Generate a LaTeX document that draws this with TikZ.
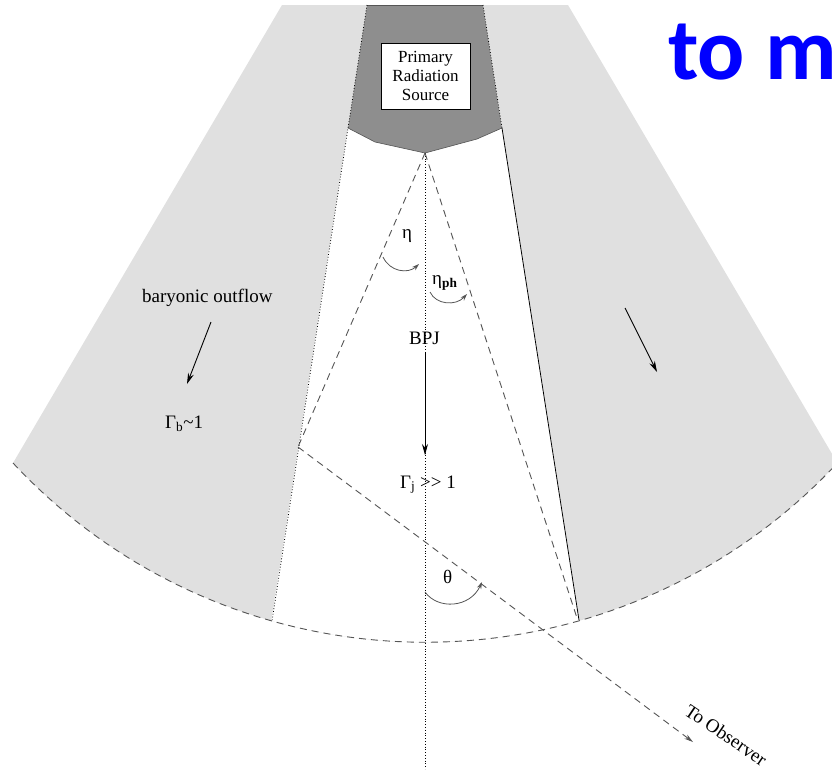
\documentclass[tikz,border=0pt]{standalone}
\usepackage{fontspec}
\setmainfont{Liberation Serif}
\newfontfamily\headfont{Carlito}
\usetikzlibrary{arrows.meta}
\definecolor{gray100}{HTML}{E0E0E0}
\definecolor{gray500}{HTML}{8E8E8E}
\definecolor{gray700}{HTML}{555555}
\definecolor{blue600}{HTML}{0000FF}

\begin{document}
\begin{tikzpicture}[x=1pt,y=-1pt]
  % Styles
  \tikzset{
    txt/.style={font=\fontsize{19}{22}\selectfont, inner sep=0pt, anchor=base west},
    srcbox/.style={draw, thin, fill=white, align=center, font=\fontsize{17}{19}\selectfont, minimum width=89pt, minimum height=66pt, inner sep=1pt},
    guide/.style={dash pattern=on 7pt off 5pt, gray700, line width=0.9pt},
    axis/.style={dotted, line width=0.8pt},
    flow/.style={-{Stealth[length=11pt,width=6pt]}, line width=0.9pt},
    turn/.style={-{Stealth[length=7pt,width=4.5pt]}, gray700, line width=0.8pt},
  }

  \useasboundingbox (0,0) rectangle (832,769);
  \clip (0,0) rectangle (832,769);

  % Points
  \coordinate (apex)  at (425,153);
  \coordinate (outTL) at (282,5);
  \coordinate (outTR) at (568,5);
  \coordinate (outBL) at (13,463);
  \coordinate (srcTL) at (367,5);
  \coordinate (srcTR) at (483,5);
  \coordinate (srcL)  at (348,128);
  \coordinate (srcR)  at (502,128);
  \coordinate (inBL)  at (272,621);
  \coordinate (inBR)  at (579,620);
  \coordinate (hit)   at (298,447);
  \coordinate (phEnd) at (577,618);
  \coordinate (obs)   at (693,742);

  % Outflow sector
  \fill[gray100] (outTL) -- (outBL) arc[start angle=137, end angle=43, radius=563.6] -- (outTR) -- cycle;
  \begin{scope}
    \clip (outTL) -- (outBL) arc[start angle=137, end angle=43, radius=563.6] -- (outTR) -- cycle;
    \fill[white] (srcTL) -- (srcTR) -- (592,700) -- (259,700) -- cycle;
  \end{scope}
  \draw[guide] (outBL) arc[start angle=137, end angle=43, radius=563.6];

  % Source region
  \fill[gray500] (srcTL) -- (srcTR) -- (srcR) -- (477,139) -- (apex) -- (375,142) -- (srcL) -- cycle;
  \draw[gray700, line width=1pt] (srcTL) -- (srcTR);
  \draw[gray700, line width=0.6pt] (srcR) -- (477,139) -- (apex) -- (375,142) -- (srcL);
  \node[srcbox] (source) at (425.5,76) {Primary\\Radiation\\Source};

  % Jet boundaries
  \draw[axis] (srcTL) -- (inBL);
  \draw[axis] (srcTR) -- (srcR);
  \draw[line width=0.8pt] (srcR) -- (inBR);
  \draw[axis] (apex) -- (425,769);
  \draw[guide] (apex) -- (hit);
  \draw[guide] (apex) -- (phEnd);
  \draw[guide, -{Stealth[length=9pt,width=5pt]}] (hit) -- (obs);

  % Angles
  \draw[turn] (383,257) .. controls (390,272) and (408,274) .. (419,264);
  \draw[turn] (430,292) .. controls (436,305) and (456,306) .. (467,294);
  \draw[turn] (425,592) .. controls (438,610) and (470,608) .. (482,582);

  % Flow arrows
  \draw[flow] (211,322) -- (187,384);
  \draw[flow] (425,352) -- (425,455);
  \draw[flow] (625,308) -- (657,372);

  % Labels
  \node[txt] (eta)   at (402,238) {η};
  \node[txt] (etaph) at (432,284) {η\textsubscript{\textbf{ph}}};
  \node[txt] (bpj)   at (409,344) {BPJ};
  \node[txt] (bary)  at (142,302) {baryonic outflow};
  \node[txt] (gamb)  at (165,428) {Γ\textsubscript{b}\textasciitilde1};
  \node[txt] (gamj)  at (400,488) {Γ\textsubscript{j} \mbox{>}\mbox{>} 1};
  \node[txt] (theta) at (443,583) {θ};
  \node[font=\fontsize{19}{22}\selectfont, rotate=-34, inner sep=0pt] (observer) at (726,735) {To Observer};
  \node[anchor=base west, inner sep=0pt, text=blue600, font=\headfont\bfseries\fontsize{88}{90}\selectfont] (head) at (668,79) {to m};
\end{tikzpicture}
\end{document}
